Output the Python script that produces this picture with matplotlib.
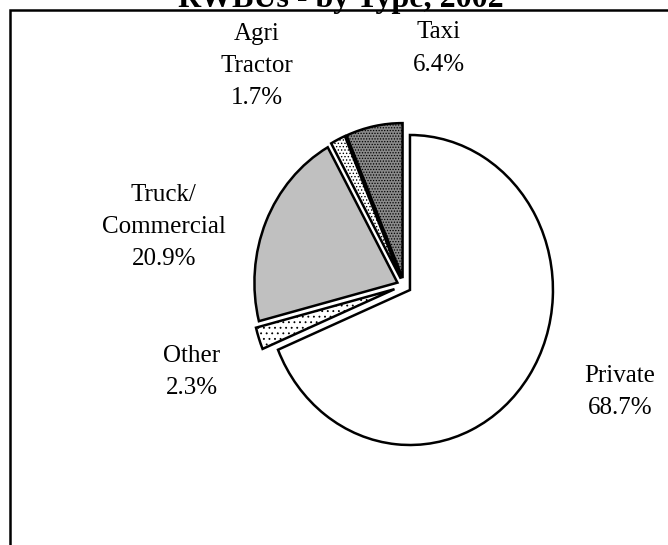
import matplotlib.pyplot as plt
from matplotlib.patches import Rectangle

# data
labels = ["Private", "Other", "Truck/\nCommercial", "Agri\nTractor", "Taxi"]
shares = [68.7, 2.3, 20.9, 1.7, 6.4]
title = "RWBUs - by Type, 2002"

# look
faces = ["white", "white", "#c0c0c0", "white", "#8a8a8a"]
hatches = [None, "...", None, ".....", "......"]
explode = [0.05, 0.07, 0.05, 0.05, 0.05]
# label centres, figure fractions
label_pos = [(0.928, 0.280), (0.287, 0.318), (0.245, 0.583), (0.385, 0.879), (0.657, 0.911)]

plt.rcParams["font.family"] = ["Liberation Serif", "DejaVu Serif"]
plt.rcParams["hatch.linewidth"] = 0.6

fig = plt.figure(figsize=(6.68, 5.45), dpi=100)
ax = fig.add_axes([0, 0, 1, 1])

wedges, _ = ax.pie(shares, explode=explode, startangle=90, counterclock=False,
                   colors=faces, wedgeprops=dict(edgecolor="black", linewidth=1.8))
for w, h in zip(wedges, hatches):
    if h:
        w.set_hatch(h)

# pie centre at about (404, 286) px, radius ~143 px wide, ~155 px tall
ax.set_aspect("auto")
ax.set_xlim(-404 / 143, (668 - 404) / 143)
ax.set_ylim((285.7 - 545) / 155, 285.7 / 155)
ax.axis("off")

for lab, val, (fx, fy) in zip(labels, shares, label_pos):
    fig.text(fx, fy, f"{lab}\n{val:.1f}%", ha="center", va="center",
             multialignment="center", fontsize=18, linespacing=1.6)

# frame round the chart (runs off right and bottom)
fig.patches.append(Rectangle((10 / 668, -0.1), 1.2, 1 - 10 / 545 + 0.1,
                             transform=fig.transFigure, fill=False,
                             edgecolor="black", linewidth=1.8))

# title sits mostly above the top edge, as in the source
fig.text(341 / 668, 1 - 7 / 545, title, ha="center", va="baseline",
         fontsize=23, fontweight="bold")

fig.savefig("out.png", dpi=100)
